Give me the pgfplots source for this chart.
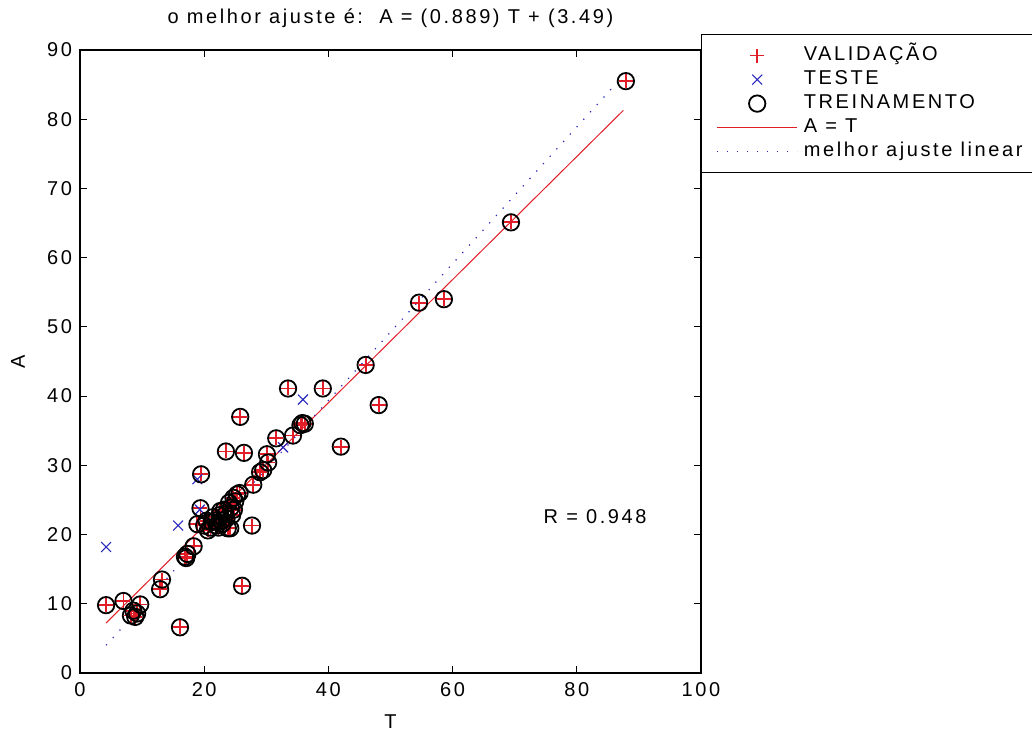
\documentclass[border=0pt]{standalone}
\usepackage{fontspec}
\setmainfont{Liberation Sans}[LetterSpace=13]
\usepackage{pgfplots}
\pgfplotsset{compat=1.18}
\definecolor{mred}{RGB}{225,30,40}
\definecolor{mblue}{RGB}{40,40,190}
\pgfplotstableread{
x y
4.2 9.8
7.0 10.4
8.2 8.3
8.6 9.0
8.9 8.1
9.2 8.6
9.7 9.9
12.9 12.1
13.2 13.5
16.1 6.6
16.9 16.8
17.1 16.6
17.3 17.2
18.3 18.3
18.9 21.5
19.4 23.8
19.5 28.7
20.0 21.3
20.4 22.0
20.6 20.6
21.0 21.0
21.2 21.8
21.4 22.5
21.8 22.0
22.0 21.3
22.3 21.0
22.5 22.8
22.6 23.4
22.8 22.0
23.0 21.6
23.2 23.6
23.4 22.9
23.6 22.3
23.5 32.0
23.8 20.9
24.0 24.6
24.2 20.9
24.3 23.9
24.5 22.8
24.8 23.6
24.7 25.3
25.0 24.8
25.3 25.8
25.7 26.0
25.8 37.0
26.1 12.6
26.4 31.8
27.7 21.3
27.9 27.2
29.0 29.0
29.5 29.3
30.1 31.6
30.3 30.4
31.6 33.9
33.5 41.1
34.3 34.3
35.5 35.8
35.8 36.1
36.2 36.0
39.1 41.1
42.0 32.7
46.0 44.5
48.1 38.7
54.6 53.5
58.6 54.0
69.4 65.1
87.9 85.5
}\train
\pgfplotstableread{
x y
4.2 18.2
15.8 21.3
18.9 28.0
19.3 23.6
32.7 32.6
35.9 39.5
}\teste
\begin{document}
\fontsize{10}{12}\selectfont
\begin{tikzpicture}
\useasboundingbox (0,0) rectangle (516pt,-366.5pt);
\begin{axis}[
  at={(40pt,-25pt)}, anchor=north west,
  width=310.5pt, height=311.5pt, scale only axis,
  xmin=0, xmax=100, ymin=0, ymax=90,
  xtick={0,20,...,100}, ytick={0,10,...,90},
  tick align=inside, major tick length=3.5pt,
  axis line style={line width=0.6pt},
  tick style={line width=0.6pt, black},
  /pgf/number format/assume math mode=true,
  xticklabel style={anchor=base, yshift=-12pt},
  yticklabel style={anchor=east, xshift=-0.5pt},
  title={o melhor ajuste é:\ \ A = (0.889) T + (3.49)},
  title style={at={(0.5,1)}, anchor=base, yshift=7pt},
  xlabel={T},
  xlabel style={at={(0.5,0)}, anchor=base, yshift=-28pt},
  ylabel={A},
  ylabel style={at={(-0.0998,0.5)}, anchor=center},
  legend style={at={(1,1)}, anchor=north west, yshift=8pt, draw=black,
    line width=0.6pt, inner xsep=7.5pt, inner ysep=4.5pt,
    cells={anchor=west},
    /tikz/every odd column/.append style={column sep=2pt},
    nodes={inner sep=1pt, text height=7.5pt, text depth=2.5pt}},
  legend image code/.code={\path[draw=none,fill=none] (0pt,0pt) -- (40pt,0pt);\draw[mark repeat=2,mark phase=2,#1] plot coordinates {(0pt,0pt) (20pt,0pt) (40pt,0pt)};},
]
\addplot[only marks, mark=+, mark size=3.5pt, mred, line width=0.9pt] table {\train};
\addlegendentry{VALIDAÇÃO}
\addplot[only marks, mark=x, mark size=3.5pt, mblue, line width=0.55pt] table {\teste};
\addlegendentry{TESTE}
\addplot[only marks, mark=o, mark size=4.1pt, black, line width=0.9pt] table {\train};
\addlegendentry{TREINAMENTO}
\addplot[mred, line width=0.5pt] coordinates {(4.2,7.22) (87.5,81.28)};
\addlegendentry{A = T}
\addplot[mblue, line width=0.6pt, dash pattern=on 0.6pt off 4.4pt] coordinates {(4.2,4.0) (87.5,86.3)};
\addlegendentry{melhor ajuste linear}
\node[anchor=west, inner sep=0pt] at (axis cs:74.6,22.6) {R = 0.948};
\end{axis}
\end{tikzpicture}
\end{document}
